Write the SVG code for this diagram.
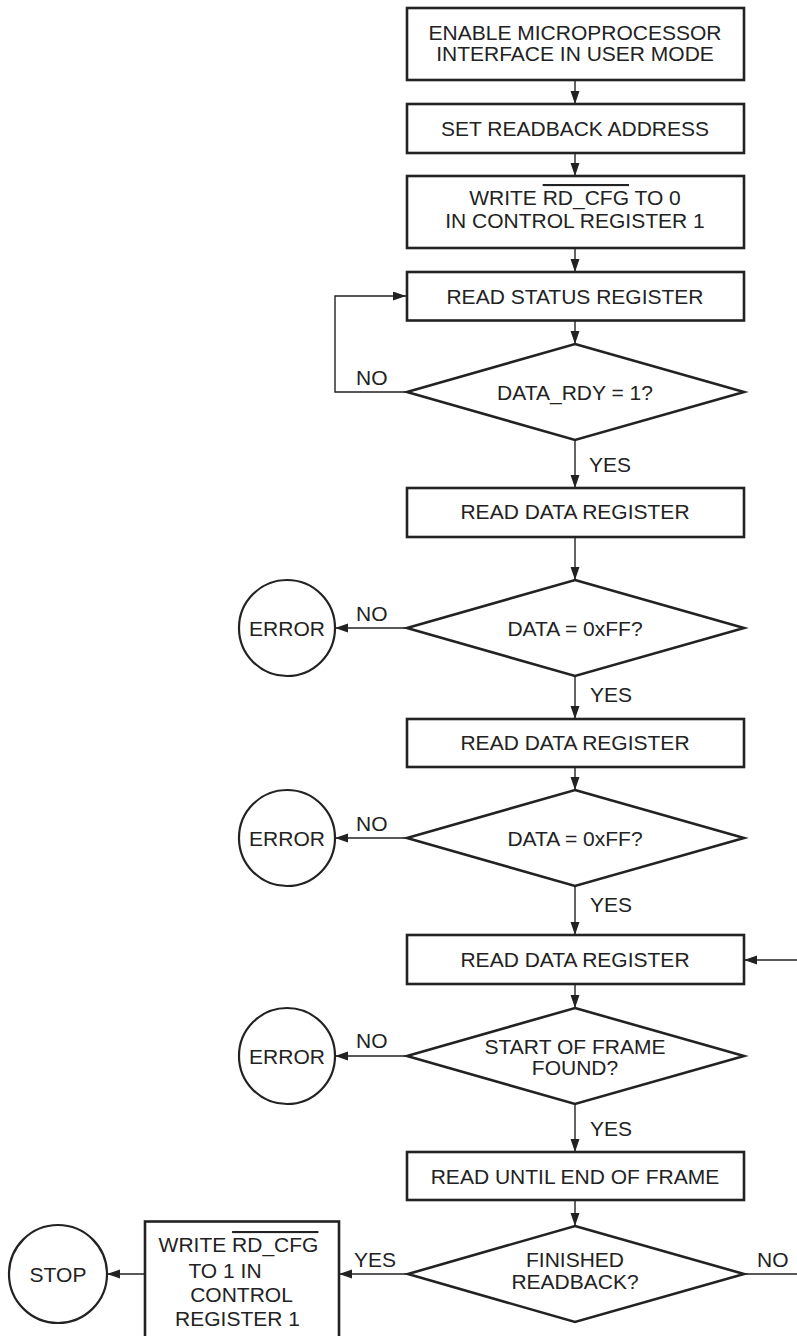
<svg xmlns="http://www.w3.org/2000/svg" width="797" height="1336" viewBox="0 0 797 1336">
<style>
.shape{fill:#fff;stroke:#222;stroke-width:2.6}
.circ{fill:#fff;stroke:#222;stroke-width:2.2}
.conn{fill:none;stroke:#222;stroke-width:1.4}
text{font-family:"Liberation Sans",Arial,sans-serif;font-size:21px;fill:#222}
.c{text-anchor:middle}
.ov{text-decoration:overline}
</style>
<defs>
<marker id="ah" markerUnits="userSpaceOnUse" markerWidth="14" markerHeight="10" refX="13" refY="4.5" orient="auto">
<path d="M0,0 L13,4.5 L0,9 Z" fill="#222"/>
</marker>
</defs>
<rect width="797" height="1336" fill="#fff"/>
<g id="connectors">
<path class="conn" d="M575,80 V104" marker-end="url(#ah)"/>
<path class="conn" d="M575,153 V176" marker-end="url(#ah)"/>
<path class="conn" d="M575,248 V272" marker-end="url(#ah)"/>
<path class="conn" d="M575,320.5 V344" marker-end="url(#ah)"/>
<path class="conn" d="M407,392 H335 V296 H406" marker-end="url(#ah)"/>
<path class="conn" d="M575,440 V488" marker-end="url(#ah)"/>
<path class="conn" d="M575,537 V580" marker-end="url(#ah)"/>
<path class="conn" d="M407,628 H335" marker-end="url(#ah)"/>
<path class="conn" d="M575,676 V719" marker-end="url(#ah)"/>
<path class="conn" d="M575,767 V790" marker-end="url(#ah)"/>
<path class="conn" d="M407,838 H335" marker-end="url(#ah)"/>
<path class="conn" d="M575,886 V935" marker-end="url(#ah)"/>
<path class="conn" d="M797,960 H744" marker-end="url(#ah)"/>
<path class="conn" d="M575,984 V1008" marker-end="url(#ah)"/>
<path class="conn" d="M407,1056 H335" marker-end="url(#ah)"/>
<path class="conn" d="M575,1104 V1152" marker-end="url(#ah)"/>
<path class="conn" d="M575,1200 V1226" marker-end="url(#ah)"/>
<path class="conn" d="M408,1274 H339" marker-end="url(#ah)"/>
<path class="conn" d="M145,1274 H107" marker-end="url(#ah)"/>
<path class="conn" d="M744,1274 H797"/>
<text x="356" y="385">NO</text>
<text x="589" y="472">YES</text>
<text x="356" y="621">NO</text>
<text x="590" y="702">YES</text>
<text x="356" y="831">NO</text>
<text x="590" y="912">YES</text>
<text x="356" y="1048">NO</text>
<text x="590" y="1136">YES</text>
<text x="354" y="1267">YES</text>
<text x="757" y="1267">NO</text>
</g>
<g id="n1">
<rect class="shape" x="407" y="8" width="337" height="72"/>
<text class="c" x="575" y="39.5">ENABLE MICROPROCESSOR</text>
<text class="c" x="575" y="61">INTERFACE IN USER MODE</text>
</g>
<g id="n2">
<rect class="shape" x="407" y="104" width="337" height="49"/>
<text class="c" x="575" y="135.5">SET READBACK ADDRESS</text>
</g>
<g id="n3">
<rect class="shape" x="407" y="176" width="337" height="72"/>
<text class="c" x="575" y="205">WRITE <tspan class="ov">RD_CFG</tspan> TO 0</text>
<text class="c" x="575" y="227.5">IN CONTROL REGISTER 1</text>
</g>
<g id="n4">
<rect class="shape" x="407" y="272" width="337" height="48.5"/>
<text class="c" x="575" y="303.5">READ STATUS REGISTER</text>
</g>
<g id="d1">
<polygon class="shape" points="575,344 744,392 575,440 407,392"/>
<text class="c" x="575" y="399.5">DATA_RDY = 1?</text>
</g>
<g id="n5">
<rect class="shape" x="407" y="488" width="337" height="49"/>
<text class="c" x="575" y="519">READ DATA REGISTER</text>
</g>
<g id="d2">
<polygon class="shape" points="575,580 744,628 575,676 407,628"/>
<text class="c" x="575" y="636">DATA = 0xFF?</text>
</g>
<g id="e1">
<circle class="circ" cx="287" cy="628" r="48"/>
<text class="c" x="287" y="636">ERROR</text>
</g>
<g id="n6">
<rect class="shape" x="407" y="719" width="337" height="48"/>
<text class="c" x="575" y="749.5">READ DATA REGISTER</text>
</g>
<g id="d3">
<polygon class="shape" points="575,790 744,838 575,886 407,838"/>
<text class="c" x="575" y="846">DATA = 0xFF?</text>
</g>
<g id="e2">
<circle class="circ" cx="287" cy="838" r="48"/>
<text class="c" x="287" y="846">ERROR</text>
</g>
<g id="n7">
<rect class="shape" x="407" y="935" width="337" height="49"/>
<text class="c" x="575" y="967">READ DATA REGISTER</text>
</g>
<g id="d4">
<polygon class="shape" points="575,1008 744,1056 575,1104 407,1056"/>
<text class="c" x="575" y="1054">START OF FRAME</text>
<text class="c" x="575" y="1075">FOUND?</text>
</g>
<g id="e3">
<circle class="circ" cx="287" cy="1056" r="48"/>
<text class="c" x="287" y="1064">ERROR</text>
</g>
<g id="n8">
<rect class="shape" x="407" y="1152" width="337" height="48"/>
<text class="c" x="575" y="1183.5">READ UNTIL END OF FRAME</text>
</g>
<g id="d5">
<polygon class="shape" points="575,1226 744,1274 575,1322 408,1274"/>
<text class="c" x="575" y="1267">FINISHED</text>
<text class="c" x="575" y="1289">READBACK?</text>
</g>
<g id="n9">
<rect class="shape" x="145" y="1221.5" width="194" height="130"/>
<text class="c" x="238.5" y="1252">WRITE <tspan class="ov">RD_CFG</tspan></text>
<text class="c" x="225" y="1277.5">TO 1 IN</text>
<text class="c" x="241.5" y="1302">CONTROL</text>
<text class="c" x="237.5" y="1326">REGISTER 1</text>
</g>
<g id="stop">
<circle class="circ" cx="58" cy="1274" r="49"/>
<text class="c" x="58" y="1282">STOP</text>
</g>
</svg>
